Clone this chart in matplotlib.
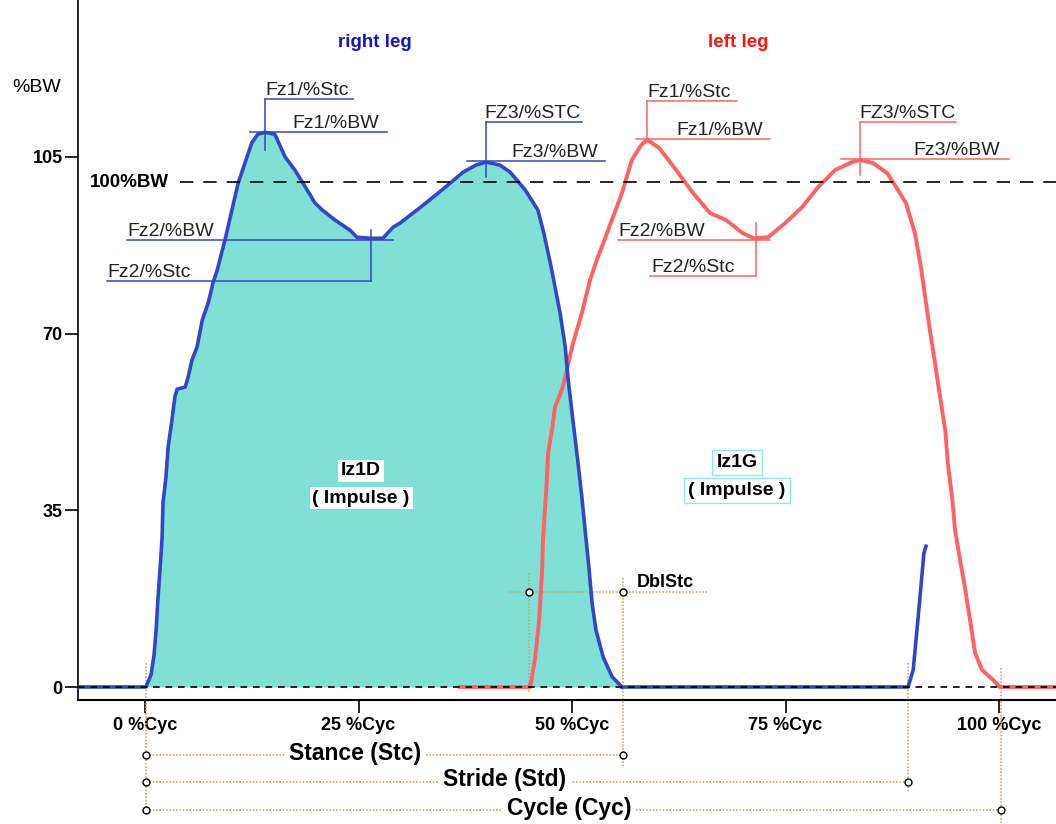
import numpy as np
import matplotlib
matplotlib.use('Agg')
import matplotlib.pyplot as plt

plt.rcParams['font.family'] = ['Liberation Sans', 'DejaVu Sans']

# right leg vertical force (%BW) against gait cycle (%Cyc)
right_x = [-8, 0.1, 0.7, 1.05, 1.3, 1.5, 1.75, 2.0, 2.1, 2.45, 2.7, 3.15, 3.5, 3.75, 4.7,
           5.05, 5.5, 6.1, 6.7, 7.4, 7.95, 8.45, 9.35, 10.9, 12.5, 13.2, 14.05, 15.2, 16.4,
           17.55, 18.5, 19.9, 20.75, 22.25, 24.0, 24.8, 26.35, 27.85, 29.05, 29.85, 32.3,
           34.8, 37.25, 38.75, 39.95, 41.55, 42.75, 44.5, 46.0, 46.7, 47.55, 48.6, 49.2,
           49.55, 50.1, 50.7, 51.15, 51.65, 52.0, 52.35, 52.8, 53.65, 54.7, 55.85]
right_y = [0, 0, 2.4, 6.3, 11.3, 17.2, 23.2, 29.7, 36.5, 41.6, 47.5, 52.9, 57.5, 59.0, 59.4,
           61.4, 64.8, 67.4, 72.7, 76.1, 80.0, 82.6, 88.5, 99.8, 107.8, 109.5, 109.9, 109.5, 105.0,
           102.4, 99.8, 95.9, 94.5, 92.5, 90.5, 89.1, 88.9, 88.9, 91.1, 91.9, 95.1,
           98.5, 102.0, 103.4, 104.0, 103.4, 102.0, 98.5, 94.5, 89.9, 83.2, 74.1, 67.4,
           60.8, 52.9, 44.4, 37.6, 29.1, 23.2, 16.6, 11.3, 5.9, 2.0, 0]
# swing, then next right heel strike
right_next_x = [55.85, 89.35, 89.95, 90.5, 90.85, 91.2, 91.45]
right_next_y = [0, 0, 3.4, 13.3, 19.8, 26.5, 27.9]

# left leg
left_x = [36.9, 45.1, 45.65, 46.15, 46.5, 46.6, 46.85, 47.05, 47.2, 47.65, 48.0, 48.8, 49.4,
          50.0, 51.15, 52.1, 52.9, 54.35, 55.85, 57.0, 58.1, 58.8, 60.2, 62.2, 64.15, 66.15,
          68.05, 70.0, 71.3, 72.95, 74.95, 76.95, 78.8, 80.8, 82.8, 83.7, 85.25, 86.9, 88.15,
          89.1, 90.15, 90.85, 91.9, 92.5, 93.1, 93.7, 94.0, 94.5, 94.85, 95.3, 96.0, 96.6,
          97.2, 98.0, 99.3, 100.1, 108]
left_y = [0, 0, 5.3, 13.3, 23.2, 29.1, 35.7, 41.0, 46.4, 50.9, 55.5, 58.8, 62.8,
          67.4, 74.1, 80.6, 84.6, 91.1, 97.9, 104.4, 107.4, 108.4, 106.8, 102.4, 97.9, 93.9,
          92.5, 89.9, 88.9, 89.1, 91.9, 95.1, 99.0, 102.4, 104.0, 104.4, 103.8, 101.8, 98.5,
          95.9, 89.9, 83.2, 70.7, 64.2, 57.4, 50.9, 44.4, 37.6, 31.1, 26.5, 19.8, 13.3,
          6.7, 3.4, 1.4, 0, 0]

y_ticks = [0, 35, 70, 105]
x_ticks = [0, 25, 50, 75, 100]
x_labels = ['0 %Cyc', '25 %Cyc', '50 %Cyc', '75 %Cyc', '100 %Cyc']

# gait events (%Cyc)
t_start = 0.1
t_dbl = 44.95
t_stance = 56.0
t_stride = 89.35
t_cycle = 100.2

BLUE = '#3347c4'
RED = '#ff6262'
FILL = '#80e0d6'
DOT = '#c4aa66'
TXT = '#222222'

fig = plt.figure(figsize=(10.56, 8.24), dpi=100)
ax = fig.add_axes([78 / 1056, 1 - 700 / 824, 978 / 1056, 700 / 824])
ax.set_xlim(-7.85, 106.67)
ax.set_ylim(-2.575, 136.1)

ax.fill_between(right_x, right_y, 0, color=FILL, lw=0, zorder=1)
ax.plot(left_x, left_y, color=RED, lw=2.8, zorder=3)
ax.plot(right_x, right_y, color=BLUE, lw=2.6, zorder=3)
ax.plot(right_next_x, right_next_y, color=BLUE, lw=2.6, zorder=3)

ax.axhline(0, color='k', lw=1.2, ls=(0, (4, 3.5)), zorder=5)
ax.plot([4.1, 107], [100, 100], color='k', lw=1.2, ls=(0, (8, 6)), zorder=5)
ax.text(-6.45, 100, '100%BW', fontsize=13.5, fontweight='bold', va='center', ha='left')

for s in ['top', 'right']:
    ax.spines[s].set_visible(False)
ax.spines['left'].set_linewidth(1.2)
ax.spines['bottom'].set_linewidth(1.5)
ax.set_yticks(y_ticks)
ax.set_yticklabels([str(v) for v in y_ticks], fontweight='bold')
ax.set_xticks(x_ticks)
ax.set_xticklabels(x_labels, fontweight='bold')
ax.tick_params(axis='y', direction='out', length=9.5, width=1.2, pad=1.5, labelsize=13)
ax.tick_params(axis='x', direction='out', length=9, width=1.2, pad=3, labelsize=13)
ax.text(-12.65, 118.7, '%BW', fontsize=14, ha='center', va='center')

ax.text(26.9, 127.6, 'right leg', color='#1414c8', fontsize=13.5, fontweight='bold',
        ha='center', va='center')
ax.text(69.45, 127.6, 'left leg', color='#ff1414', fontsize=13.5, fontweight='bold',
        ha='center', va='center')


def event(xs, ys, lo, hi, fn):
    xs = np.array(xs)
    ys = np.array(ys)
    m = (xs >= lo) & (xs <= hi)
    i = np.where(m)[0][fn(ys[m])]
    return xs[i], ys[i]


def hlab(x0, x1, y, text, xt, color):
    ax.plot([x0, x1], [y, y], color=color, lw=1.1, zorder=4)
    ax.text(xt, y + 0.8, text, fontsize=14, color=TXT, ha='left', va='baseline', zorder=6)


def vl(x, y0, y1, color):
    ax.plot([x, x], [y0, y1], color=color, lw=1.1, zorder=4)


# right leg callouts
xe, ye = event(right_x, right_y, 5, 20, np.argmax)
vl(xe, ye - 3.5, ye + 6.6, BLUE)
hlab(xe, xe + 10.3, ye + 6.6, 'Fz1/%Stc', xe, BLUE)
hlab(xe - 1.75, xe + 14.3, ye, 'Fz1/%BW', xe + 3.25, BLUE)
xe, ye = event(right_x, right_y, 20, 35, np.argmin)
hlab(-2.1, xe + 2.7, ye - 0.35, 'Fz2/%BW', -2.1, BLUE)
vl(xe + 0.1, ye + 1.6, ye - 8.5, BLUE)
hlab(-4.45, xe + 0.1, ye - 8.5, 'Fz2/%Stc', -4.45, BLUE)
xe, ye = event(right_x, right_y, 30, 50, np.argmax)
vl(xe, ye - 3, ye + 7.9, BLUE)
hlab(xe, xe + 11.2, ye + 7.9, 'FZ3/%STC', xe - 0.25, BLUE)
hlab(xe - 2.25, xe + 13.9, ye + 0.2, 'Fz3/%BW', xe + 2.9, BLUE)

# left leg callouts
xe, ye = event(left_x, left_y, 50, 65, np.argmax)
vl(xe, ye, ye + 7.7, RED)
hlab(xe, xe + 10.5, ye + 7.7, 'Fz1/%Stc', xe, RED)
hlab(xe - 1.3, xe + 14.4, ye + 0.2, 'Fz1/%BW', xe + 3.4, RED)
xe, ye = event(left_x, left_y, 65, 80, np.argmin)
hlab(55.4, xe + 1.9, ye - 0.35, 'Fz2/%BW', 55.4, RED)
vl(xe + 0.25, ye + 3, ye - 7.5, RED)
hlab(59.15, xe + 0.25, ye - 7.5, 'Fz2/%Stc', 59.25, RED)
xe, ye = event(left_x, left_y, 75, 95, np.argmax)
vl(xe, ye - 3, ye + 7.5, RED)
hlab(xe, xe + 11.25, ye + 7.5, 'FZ3/%STC', xe, RED)
hlab(xe - 2.2, xe + 17.5, ye + 0.2, 'Fz3/%BW', xe + 6.25, RED)

# impulse labels
ax.text(25.3, 42.8, 'Iz1D', fontsize=14, fontweight='bold', ha='center', va='center', zorder=6,
        bbox=dict(fc='white', ec='none', pad=2))
ax.text(25.3, 37.4, '( Impulse )', fontsize=14, fontweight='bold', ha='center', va='center',
        zorder=6, bbox=dict(fc='white', ec='none', pad=2))
ax.text(69.3, 44.4, 'Iz1G', fontsize=14, fontweight='bold', ha='center', va='center', zorder=6,
        bbox=dict(fc='white', ec='#8ee8ea', lw=1, pad=3))
ax.text(69.3, 39.0, '( Impulse )', fontsize=14, fontweight='bold', ha='center', va='center',
        zorder=6, bbox=dict(fc='white', ec='#8ee8ea', lw=1, pad=3))

# timing lines
dkw = dict(color=DOT, lw=1.2, ls=(0, (1, 1)), clip_on=False, zorder=2)
okw = dict(marker='o', ls='none', mfc='white', mec='k', ms=5, mew=1, clip_on=False, zorder=7)
ax.plot([t_start, t_start], [4.75, -25], **dkw)
ax.plot([t_stance, t_stance], [21.6, -15.8], **dkw)
ax.plot([t_dbl, t_dbl], [22.6, -1.0], **dkw)
ax.plot([t_stride, t_stride], [4.75, -21], **dkw)
ax.plot([t_cycle, t_cycle], [3.8, -26.9], **dkw)

ax.plot([42.6, 65.8], [18.8, 18.8], **dkw)
ax.plot([t_dbl, t_stance], [18.8, 18.8], **okw)
ax.text(57.6, 20.8, 'DblStc', fontsize=13, fontweight='bold', ha='left', va='center')

rows = [('Stance (Stc)', t_stance, -13.5, 24.55),
        ('Stride (Std)', t_stride, -18.8, 42.15),
        ('Cycle (Cyc)', t_cycle, -24.4, 49.65)]
for label, t_end, yr, xt in rows:
    ax.plot([t_start, t_end], [yr, yr], **dkw)
    ax.plot([t_start, t_end], [yr, yr], **okw)
    ax.text(xt, yr + 0.4, label, fontsize=16.5, fontweight='bold', ha='center', va='center',
            zorder=6, bbox=dict(fc='white', ec='none', pad=3))

fig.savefig('out.png', dpi=100)
